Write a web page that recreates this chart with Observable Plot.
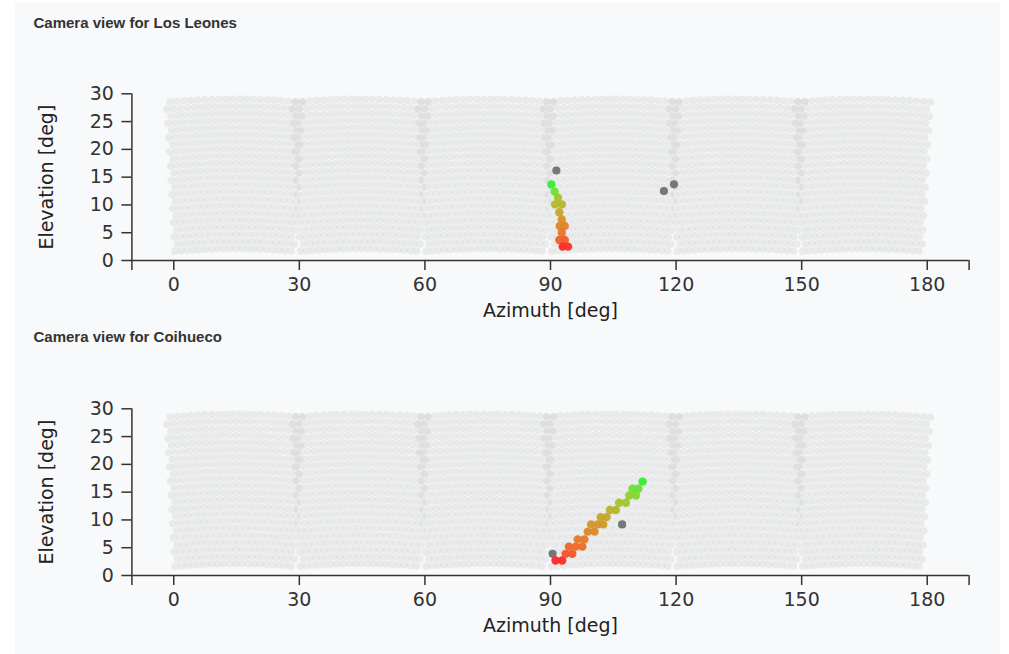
<!DOCTYPE html>
<html>
<head>
<meta charset="utf-8">
<script src="https://cdn.jsdelivr.net/npm/d3@7"></script>
<script src="https://cdn.jsdelivr.net/npm/@observablehq/plot@0.6"></script>
<style>
  html, body { margin: 0; padding: 0; background: #ffffff; }
  #page { position: absolute; left: 15px; top: 2px; width: 985px; height: 652px; background: #f8f9fa; }
  .title { position: absolute; left: 18.5px; font: bold 15px "Liberation Sans", Arial, sans-serif; line-height: 15px; color: #333; white-space: nowrap; }
  .panel { position: absolute; left: 0; }
</style>
</head>
<body>
<div id="page">
  <div class="title" id="t1" style="top:13px"></div>
  <div class="panel" id="p1" style="top:38px"></div>
  <div class="title" id="t2" style="top:327px"></div>
  <div class="panel" id="p2" style="top:353px"></div>
</div>
<script>
// ---------- data ----------
const titles = ["Camera view for Los Leones", "Camera view for Coihueco"];
const xLabel = "Azimuth [deg]";
const yLabel = "Elevation [deg]";
const xTicks = [0, 30, 60, 90, 120, 150, 180];
const yTicks = [0, 5, 10, 15, 20, 25, 30];

// camera geometry (6 telescopes, 20 x 22 hexagonal pixels)
const cameraAzimuths = [14.5, 44.5, 74.5, 104.5, 134.5, 164.5];
const cameraTilt = 15.6;
const pixelRows = 22;
const pixelColumns = 20;
const pixelPitch = 1.5;
const rowPitch = 1.28;

// Los Leones triggered pixels (time in relative units)
const llHitAz   = [90.2, 91.0, 91.8, 91.1, 92.7, 92.1, 92.7, 92.2, 93.4, 92.7, 92.1, 93.4, 92.9, 94.2];
const llHitEl   = [13.7, 12.4, 11.3, 10.1, 10.1, 8.7, 7.4, 6.2, 6.2, 5.0, 3.7, 3.7, 2.5, 2.5];
const llHitTime = [0, 1, 3, 4, 4.2, 5, 6.2, 6.8, 7, 7.6, 8.5, 8.7, 10, 9.8];
const llNoiseAz = [91.4, 117.1, 119.5];
const llNoiseEl = [16.2, 12.5, 13.7];

// Coihueco triggered pixels (time in relative units)
const coHitAz   = [91.2, 92.8, 93.6, 95.2, 94.4, 96.0, 97.6, 96.5, 98.1, 98.9, 100.5, 99.7, 101.3, 102.6, 102.0, 103.4, 104.2, 105.6, 106.4, 108.0, 108.8, 110.4, 109.6, 111.0, 112.0];
const coHitEl   = [2.7, 2.7, 3.9, 3.9, 5.2, 5.2, 5.2, 6.5, 6.5, 7.9, 7.9, 9.2, 9.2, 9.2, 10.5, 10.5, 11.8, 11.8, 13.1, 13.1, 14.4, 14.4, 15.6, 15.6, 16.9];
const coHitTime = [10, 9.9, 9, 8.9, 8.3, 8.2, 8.1, 7.5, 7.4, 6.8, 6.7, 6.1, 6, 5.9, 5.1, 5, 4.2, 4.1, 3, 2.9, 2, 1.9, 1, 0.9, 0];
const coNoiseAz = [90.5, 107.1];
const coNoiseEl = [3.9, 9.2];

// ---------- build tables ----------
function cameraPixels() {
  const rad = Math.PI / 180, t = cameraTilt * rad;
  const out = [];
  for (const az0 of cameraAzimuths) {
    for (let j = 0; j < pixelRows; j++) {
      for (let i = 0; i < pixelColumns; i++) {
        const u = (i - (pixelColumns - 1) / 2 + (j % 2 ? 0.25 : -0.25)) * pixelPitch * rad;
        const w = (j - (pixelRows - 1) / 2) * rowPitch * rad;
        const x = Math.cos(w) * Math.sin(u);
        const y = Math.sin(w);
        const z = Math.cos(w) * Math.cos(u);
        const y2 = y * Math.cos(t) + z * Math.sin(t);
        const z2 = -y * Math.sin(t) + z * Math.cos(t);
        out.push({az: az0 + Math.atan2(x, z2) / rad, el: Math.asin(y2) / rad});
      }
    }
  }
  return out;
}
const grid = cameraPixels();
const zip = (az, el, t) => az.map((a, k) => ({az: a, el: el[k], t: t ? t[k] : null}));

function panel(hits, noise) {
  const axisStyle = {color: "#333", strokeWidth: 1.5, fontSize: 19, fontFamily: "DejaVu Sans"};
  return Plot.plot({
    width: 985, height: 290,
    marginLeft: 116.4, marginRight: 31.4, marginTop: 53.3, marginBottom: 70,
    x: {domain: [-10, 190]},
    y: {domain: [0, 30]},
    color: {type: "linear", domain: d3.extent(hits, d => d.t), range: ["#33ee33", "#ff2626"], interpolate: d3.interpolateLab},
    style: {background: "transparent", fontFamily: "DejaVu Sans", fontSize: "19px", color: "#333", overflow: "visible"},
    marks: [
      Plot.dot(grid, {x: "az", y: "el", r: 3.7, fill: "#c8c8c8", fillOpacity: 0.3}),
      Plot.dot(noise, {x: "az", y: "el", r: 4.1, fill: "#777"}),
      Plot.dot(hits, {x: "az", y: "el", r: 4.2, fill: "t", fillOpacity: 0.95}),
      Plot.ruleY([0], {stroke: "#333", strokeWidth: 1.5}),
      Plot.ruleX([-10], {y1: 0, y2: 30, stroke: "#333", strokeWidth: 1.5}),
      Plot.axisX(xTicks, {...axisStyle, tickSize: 10, tickPadding: 7, label: null}),
      Plot.axisX([-10, 190], {...axisStyle, tickSize: 10, tickFormat: () => "", label: null}),
      Plot.axisY(yTicks, {...axisStyle, tickSize: 10, tickPadding: 8, label: null}),
      Plot.text([xLabel], {frameAnchor: "bottom", dy: 50, textAnchor: "middle", lineAnchor: "middle", fontSize: 19, fontFamily: "DejaVu Sans", fill: "#222"}),
      Plot.text([yLabel], {frameAnchor: "left", dx: -85, rotate: -90, textAnchor: "middle", lineAnchor: "middle", fontSize: 19, fontFamily: "DejaVu Sans", fill: "#222"})
    ]
  });
}

document.getElementById("t1").textContent = titles[0];
document.getElementById("t2").textContent = titles[1];
document.getElementById("p1").appendChild(panel(zip(llHitAz, llHitEl, llHitTime), zip(llNoiseAz, llNoiseEl)));
document.getElementById("p2").appendChild(panel(zip(coHitAz, coHitEl, coHitTime), zip(coNoiseAz, coNoiseEl)));
</script>
</body>
</html>
